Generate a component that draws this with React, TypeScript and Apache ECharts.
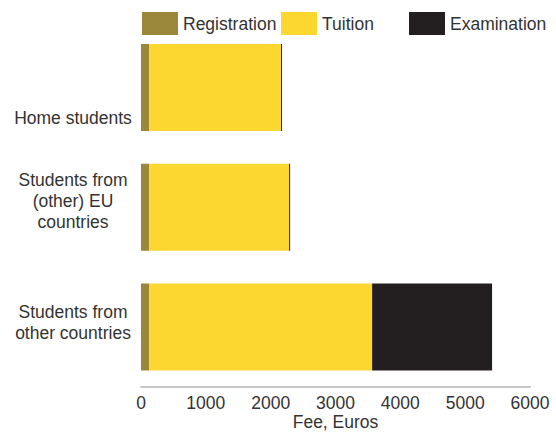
import React, { useEffect, useRef } from "react";
import * as echarts from "echarts";

const categories = ["Home students", "Students from\n(other) EU\ncountries", "Students from\nother countries"];
const registration = [125, 125, 125];
const tuition = [2035, 2160, 3440];
const examination = [15, 15, 1850];
const xTicks = { min: 0, max: 6000, interval: 1000 };
const labelShift = [31, -6, -5];

const FONT = "'Liberation Sans', Arial, sans-serif";
const FS = 17.5;

const richShift: Record<string, any> = {};
labelShift.forEach((s) => {
  const h = Math.abs(s) * 2;
  richShift["s" + h] = { lineHeight: h, height: h, fontSize: 1 };
});

function shiftLabel(text: string, idx: number) {
  const s = labelShift[idx];
  const h = Math.abs(s) * 2;
  if (s > 0) return `{s${h}| }\n${text}`;
  if (s < 0) return `${text}\n{s${h}| }`;
  return text;
}

export default function App() {
  const ref = useRef<HTMLDivElement>(null);
  useEffect(() => {
    if (!ref.current) return;
    const chart = echarts.init(ref.current, null, { renderer: "svg" });
    const legendBase = {
      top: 12,
      padding: 0,
      itemWidth: 36,
      itemHeight: 23,
      itemGap: 5,
      icon: "rect",
      textStyle: { fontSize: FS, color: "#333", fontFamily: FONT },
      selectedMode: false,
    };
    chart.setOption({
      animation: false,
      textStyle: { fontFamily: FONT },
      legend: [
        { ...legendBase, left: 142, data: ["Registration"] },
        { ...legendBase, left: 281, data: ["Tuition"] },
        { ...legendBase, left: 409, data: ["Examination"] },
      ],
      grid: { left: 141, right: 26, top: 27.5, bottom: 47, containLabel: false, outerBoundsMode: "none" },
      xAxis: {
        type: "value",
        min: xTicks.min,
        max: xTicks.max,
        interval: xTicks.interval,
        name: "Fee, Euros",
        nameLocation: "middle",
        nameGap: 26,
        nameMoveOverlap: false,
        nameTextStyle: { fontSize: FS, lineHeight: 18, color: "#333", fontFamily: FONT },
        axisLine: { show: true, lineStyle: { color: "#c8c8c8", width: 2 } },
        axisTick: { show: false },
        splitLine: { show: false },
        axisLabel: {
          fontSize: FS,
          color: "#333",
          margin: 7,
          fontFamily: FONT,
          formatter: (v: number) => String(v),
        },
      },
      yAxis: {
        type: "category",
        inverse: true,
        data: categories,
        axisLine: { show: false },
        axisTick: { show: false },
        axisLabel: {
          fontSize: FS,
          color: "#333",
          align: "center",
          margin: 68,
          lineHeight: 21,
          fontFamily: FONT,
          formatter: (v: string, i: number) => shiftLabel(v, i),
          rich: richShift,
        },
      },
      series: [
        { name: "Registration", type: "bar", stack: "fee", barWidth: 87, data: registration, itemStyle: { color: "#9b873a" } },
        { name: "Tuition", type: "bar", stack: "fee", barWidth: 87, data: tuition, itemStyle: { color: "#fcd730" } },
        { name: "Examination", type: "bar", stack: "fee", barWidth: 87, data: examination, itemStyle: { color: "#231f20" } },
      ],
    });
    return () => chart.dispose();
  }, []);
  return <div ref={ref} style={{ width: 556, height: 434, position: "absolute", left: 0, top: 0 }} />;
}
